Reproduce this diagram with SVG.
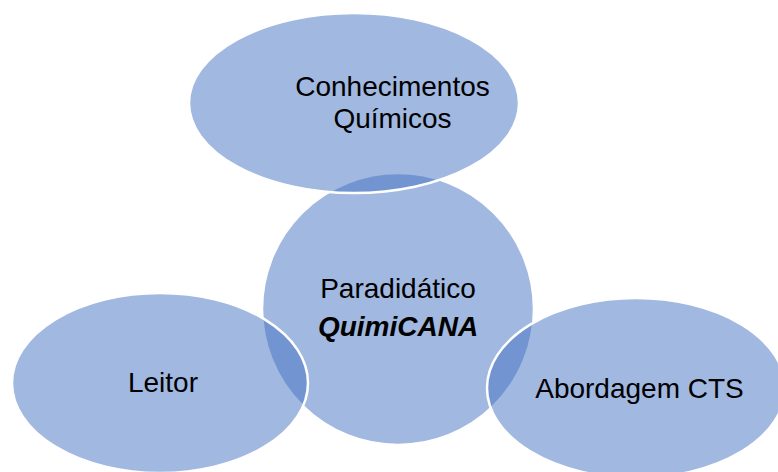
<svg xmlns="http://www.w3.org/2000/svg" width="778" height="472" viewBox="0 0 778 472">
<style>
.shape{fill:#4472C4;fill-opacity:0.5;stroke:#FFFFFF;stroke-width:2.5}
.lbl{font-family:"Liberation Sans",Arial,sans-serif;font-size:28px;fill:#000000;text-anchor:middle}
.bi{font-weight:bold;font-style:italic}
</style>
<rect width="778" height="472" fill="#FFFFFF"/>
<g id="connectors"></g>
<g id="center">
<circle class="shape" cx="398" cy="309" r="136"/>
</g>
<g id="top">
<ellipse class="shape" cx="354" cy="103" rx="165" ry="90"/>
</g>
<g id="left">
<ellipse class="shape" cx="160" cy="383" rx="148" ry="90"/>
</g>
<g id="right">
<ellipse class="shape" cx="636" cy="388" rx="149" ry="90"/>
</g>
<g id="labels">
<text class="lbl" x="392.5" y="96">Conhecimentos</text>
<text class="lbl" x="392.5" y="128">Químicos</text>
<text class="lbl" x="398" y="298">Paradidático</text>
<text class="lbl bi" x="398" y="336">QuimiCANA</text>
<text class="lbl" x="163" y="392">Leitor</text>
<text class="lbl" x="639.5" y="398">Abordagem CTS</text>
</g>
</svg>
